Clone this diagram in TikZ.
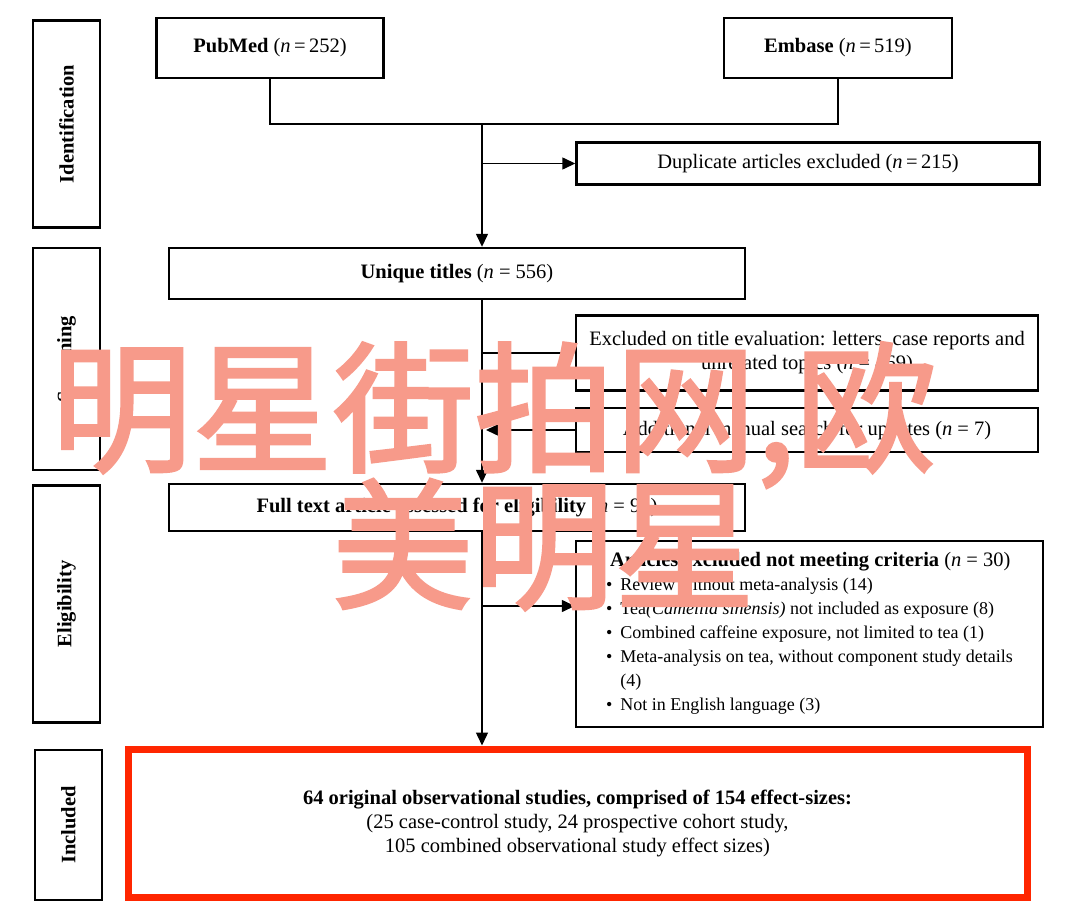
\documentclass[tikz,border=0pt]{standalone}
\usepackage{fontspec}
\setmainfont{Liberation Serif}
\newfontfamily\cjkmark{Noto Sans CJK SC}[FakeBold=2]
\usepackage{xcolor}
\usetikzlibrary{arrows.meta,positioning,calc}
\definecolor{inclred}{RGB}{255, 38, 0}
\definecolor{markpink}{RGB}{247, 154, 138}
\tikzset{
  flowbox/.style={draw=black, line width=2.4pt, rectangle, inner sep=0pt, align=center, font=\fontsize{20.5}{24}\selectfont},
  phasebox/.style={flowbox, rotate=90, minimum height=67pt, font=\fontsize{20.5}{24}\selectfont\bfseries},
  link/.style={line width=1.4pt},
  linkarrow/.style={link, -{Triangle[length=13pt,width=12pt]}},
  markword/.style={font=\cjkmark\fontsize{141}{141}\selectfont, text=markpink, anchor=base west, inner sep=0pt},
}

\begin{document}
\begin{tikzpicture}[x=1pt, y=-1pt]
    \fill[white] (0,0) rectangle (1080,915);
    \useasboundingbox (0,0) rectangle (1080,915);

    % phase labels on the left
    \node[phasebox, minimum width=207pt] (idlab) at (66.5,124) {Identification};
    \node[phasebox, minimum width=222pt] (scrlab) at (66.5,359) {Screening};
    \node[phasebox, minimum width=237pt] (eliglab) at (66.5,604) {Eligibility};
    \node[phasebox, minimum width=150pt] (inclab) at (68.5,825) {Included};

    % identification
    \node[flowbox, minimum width=227pt, minimum height=60pt] (pubmed) at (270,48) {\textbf{PubMed} (\textit{n}\,=\,252)};
    \node[flowbox, minimum width=228pt, minimum height=60pt] (embase) at (838,48) {\textbf{Embase} (\textit{n}\,=\,519)};
    \node[flowbox, minimum width=463pt, minimum height=42pt] (dup) at (808,163.5) {Duplicate articles excluded (\textit{n}\,=\,215)};

    % screening
    \node[flowbox, minimum width=576pt, minimum height=51pt] (unique) at (457,273.5) {\textbf{Unique titles} (\textit{n} = 556)};
    \node[flowbox, minimum width=462pt, minimum height=75pt] (titleex) at (807,353) {Excluded on title evaluation: letters, case reports and\\unrelated topics (\textit{n} = 469)};
    \node[flowbox, minimum width=462pt, minimum height=44pt] (manual) at (807,430) {Additional manual search for updates (\textit{n} = 7)};

    % eligibility
    \node[flowbox, minimum width=576pt, minimum height=47pt] (fulltext) at (457,507.5) {\textbf{Full text article assessed for eligibility} (\textit{n} = 94)};
    \node[flowbox, minimum width=467pt, minimum height=186pt, font=\fontsize{18}{24}\selectfont] (critex) at (809.5,634) {%
      \begin{tabular}{@{}l@{\hspace{8pt}}l@{}}
        \multicolumn{2}{@{\hspace{4pt}}l@{}}{\fontsize{20.5}{24}\selectfont\textbf{Articles excluded not meeting criteria} (\textit{n} = 30)}\\
        \textbullet & Review without meta-analysis (14)\\
        \textbullet & Tea\textit{(Camellia sinensis)} not included as exposure (8)\\
        \textbullet & Combined caffeine exposure, not limited to tea (1)\\
        \textbullet & Meta-analysis on tea, without component study details\\
                    & (4)\\
        \textbullet & Not in English language (3)
      \end{tabular}};

    % included
    \node[flowbox, draw=inclred, line width=7pt, minimum width=899pt, minimum height=148pt] (included) at (577.5,823) {\textbf{64 original observational studies, comprised of 154 effect-sizes:}\\(25 case-control study, 24 prospective cohort study,\\105 combined observational study effect sizes)};

    % connectors
    \coordinate (join) at (482,124);
    \coordinate (critfork) at (482,606);
    \draw[link] (pubmed.south) |- (join) -| (embase.south);
    \draw[linkarrow] (join) -- (join |- unique.north);
    \draw[linkarrow] (join |- dup.west) -- (dup.west);
    \draw[linkarrow] (join |- unique.south) -- (join |- fulltext.north);
    \draw[linkarrow] (join |- titleex.west) -- (titleex.west);
    \draw[linkarrow, shorten >=4pt] (manual.west) -- (join |- manual.west);
    \draw[linkarrow] (join |- fulltext.south) -- (join |- included.north);
    \draw[linkarrow] (critfork) -- (critfork -| critex.west);

    % watermark over the chart
    \node[markword] (markone) at (51,461) {明星街拍网,欧};
    \node[markword] (marktwo) at (332,598) {美明星};
\end{tikzpicture}
\end{document}
